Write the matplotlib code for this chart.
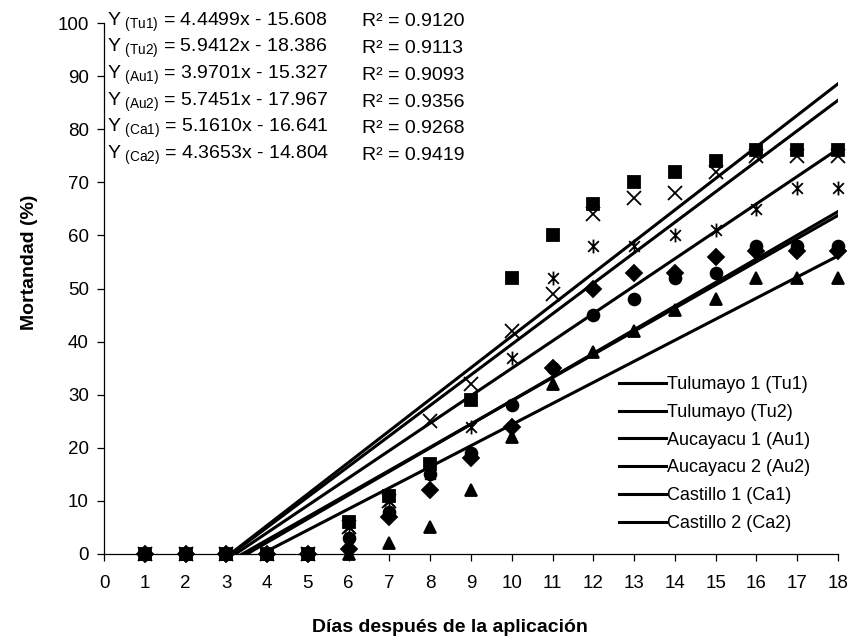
import matplotlib.pyplot as plt
from matplotlib.path import Path
import numpy as np

plt.rcParams['font.family'] = ['Liberation Sans', 'DejaVu Sans']
plt.rcParams['mathtext.default'] = 'regular'

# mortandad (%) por dia
dias = list(range(1, 19))
tu1 = [0, 0, 0, 0, 0, 1, 7, 12, 18, 24, 35, 50, 53, 53, 56, 57, 57, 57]
tu2 = [0, 0, 0, 0, 0, 6, 11, 17, 29, 52, 60, 66, 70, 72, 74, 76, 76, 76]
au1 = [0, 0, 0, 0, 0, 0, 2, 5, 12, 22, 32, 38, 42, 46, 48, 52, 52, 52]
au2 = [0, 0, 0, 0, 0, 5, 10, 25, 32, 42, 49, 64, 67, 68, 72, 75, 75, 75]
ca1 = [0, 0, 0, 0, 0, 5, 10, 15, 24, 37, 52, 58, 58, 60, 61, 65, 69, 69]
ca2 = [0, 0, 0, 0, 0, 3, 8, 15, 19, 28, 35, 45, 48, 52, 53, 58, 58, 58]

codigos = ['Tu1', 'Tu2', 'Au1', 'Au2', 'Ca1', 'Ca2']
nombres = ['Tulumayo 1 (Tu1)', 'Tulumayo (Tu2)', 'Aucayacu 1 (Au1)',
           'Aucayacu 2 (Au2)', 'Castillo 1 (Ca1)', 'Castillo 2 (Ca2)']
pendientes = [4.4499, 5.9412, 3.9701, 5.7451, 5.1610, 4.3653]
interceptos = [-15.608, -18.386, -15.327, -17.967, -16.641, -14.804]
r2 = ['0.9120', '0.9113', '0.9093', '0.9356', '0.9268', '0.9419']

# asterisco estilo excel: x con linea vertical
asterisco = Path([(-1, -1), (1, 1), (-1, 1), (1, -1), (0, -1.3), (0, 1.3)],
                 [Path.MOVETO, Path.LINETO, Path.MOVETO, Path.LINETO,
                  Path.MOVETO, Path.LINETO])

series = [tu1, tu2, au1, au2, ca1, ca2]
marcadores = ['D', 's', '^', 'x', asterisco, 'o']
tamanos = [8, 9, 9, 10, 10, 8.5]

fig = plt.figure(figsize=(8.59, 6.4), dpi=100)
ax = fig.add_axes([104 / 859, 1 - 554 / 640, (838 - 104) / 859, (554 - 23) / 640])

xs = np.array([1, 18])
for i in range(6):
    ax.plot(xs, pendientes[i] * xs + interceptos[i], color='black', lw=2.2,
            label=nombres[i], zorder=2)

orden = [0, 2, 3, 4, 5, 1]
for i in orden:
    ax.plot(dias, series[i], linestyle='none', marker=marcadores[i],
            markersize=tamanos[i], color='black', mew=1.3, clip_on=False, zorder=3)

ax.set_xlim(0, 18)
ax.set_ylim(0, 100)
ax.set_xticks(range(0, 19))
ax.set_yticks(range(0, 101, 10))
ax.spines['top'].set_visible(False)
ax.spines['right'].set_visible(False)
ax.spines['left'].set_linewidth(0.9)
ax.spines['bottom'].set_linewidth(0.9)
ax.tick_params(direction='out', length=5, width=0.9, labelsize=13.5)
ax.tick_params(axis='x', pad=10)
ax.tick_params(axis='y', pad=6)

for i in range(6):
    y = 1 - (22 + 26.7 * i) / 640
    signo = '-' if interceptos[i] < 0 else '+'
    fig.text(107 / 859, y, 'Y$_{\\ (%s)}$ = %.4fx %s %.3f' % (
        codigos[i], pendientes[i], signo, abs(interceptos[i])),
        fontsize=14, va='center', ha='left')
    fig.text(362 / 859, y, 'R² = %s' % r2[i], fontsize=14, va='center', ha='left')

ax.legend(loc='upper left', bbox_to_anchor=(619 / 859, 1 - 376 / 640),
          bbox_transform=fig.transFigure, frameon=False, fontsize=13,
          handlelength=2.6, handletextpad=0.05, labelspacing=0.6,
          borderpad=0, borderaxespad=0)

fig.text(450 / 859, 1 - 627 / 640, 'Días después de la aplicación',
         fontsize=14, fontweight='bold', ha='center', va='center')
fig.text(30 / 859, 1 - 262 / 640, 'Mortandad (%)', fontsize=14,
         fontweight='bold', ha='center', va='center', rotation=90)

fig.savefig('out.png', dpi=100, facecolor='white')
